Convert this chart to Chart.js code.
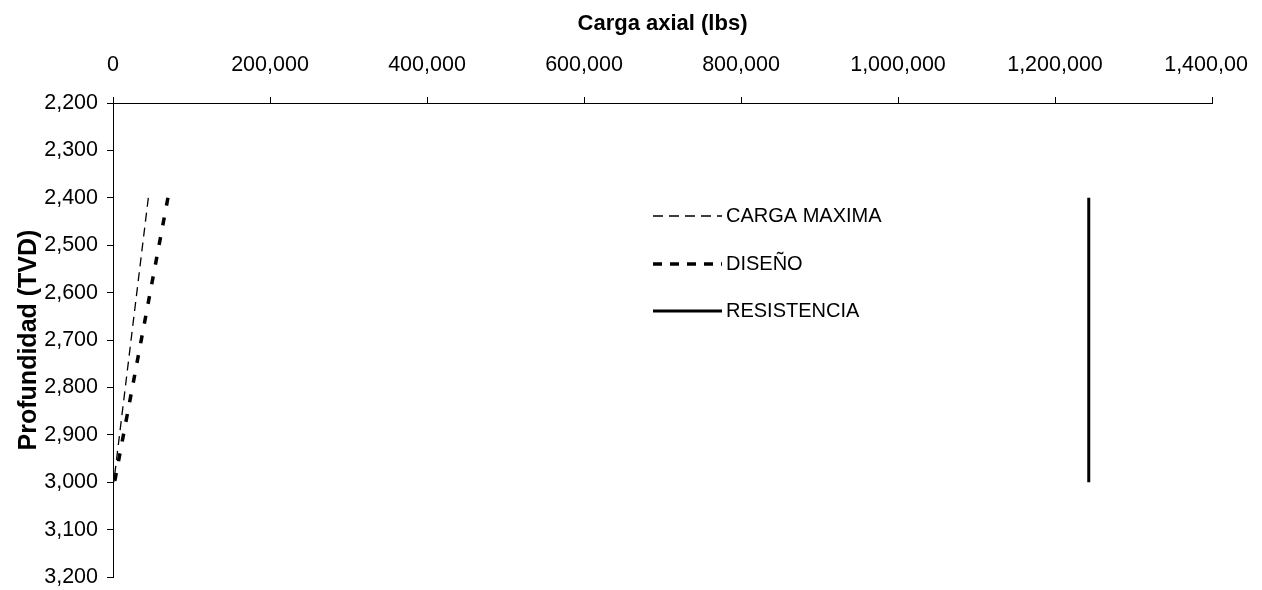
<!DOCTYPE html>
<html>
<head>
<meta charset="utf-8">
<script src="https://cdn.jsdelivr.net/npm/chart.js@4"></script>
<style>
  html, body { margin: 0; padding: 0; background: #fff; }
  #wrap { width: 1248px; height: 590px; }
</style>
</head>
<body>
<div id="wrap"><canvas id="chart" width="1248" height="590"></canvas></div>
<script>
// profundidad (TVD) de cada punto
const depth = [2400, 3000];
// carga axial (lbs)
const cargaMaxima = [45000, 1000];
const diseno = [70000, 2000];
const resistencia = [1243000, 1243000];

const xTicks = [0, 200000, 400000, 600000, 800000, 1000000, 1200000, 1400000];
const yTicks = [2200, 2300, 2400, 2500, 2600, 2700, 2800, 2900, 3000, 3100, 3200];

const FONT = '"Liberation Sans", Arial, sans-serif';

function points(xs) {
    return xs.map((x, i) => ({ x: x, y: depth[i] }));
}

const series = [
    { label: 'CARGA MAXIMA', data: cargaMaxima, width: 1.3, dash: [9, 6] },
    { label: 'DISEÑO', data: diseno, width: 3.5, dash: [8, 12] },
    { label: 'RESISTENCIA', data: resistencia, width: 3, dash: [] }
];

// leyenda dentro del area del grafico
const insideLegend = {
    id: 'insideLegend',
    afterDraw(chart) {
        const ctx = chart.ctx;
        ctx.save();
        ctx.font = '20px ' + FONT;
        ctx.fillStyle = '#000';
        ctx.textBaseline = 'middle';
        const rows = [216, 264, 311];
        const legendDash = [[10, 6], [9, 8], []];
        series.forEach((s, i) => {
            ctx.beginPath();
            ctx.lineWidth = s.width;
            ctx.strokeStyle = '#000';
            ctx.setLineDash(legendDash[i]);
            ctx.moveTo(653, rows[i]);
            ctx.lineTo(722, rows[i]);
            ctx.stroke();
            ctx.fillText(s.label, 726, rows[i]);
        });
        ctx.restore();
    }
};

new Chart(document.getElementById('chart'), {
    type: 'scatter',
    data: {
        datasets: series.map(s => ({
            label: s.label,
            data: points(s.data),
            showLine: true,
            borderColor: '#000',
            borderWidth: s.width,
            borderDash: s.dash,
            pointRadius: 0,
            borderCapStyle: 'butt'
        }))
    },
    options: {
        responsive: false,
        animation: false,
        layout: { padding: { left: 10, top: 7, right: 36, bottom: 13 } },
        plugins: { legend: { display: false }, tooltip: { enabled: false } },
        scales: {
            x: {
                type: 'linear',
                position: 'top',
                min: 0,
                max: 1400000,
                afterBuildTicks: s => { s.ticks = xTicks.map(v => ({ value: v })); },
                afterFit: s => { s.height = 96; s.paddingLeft = 0; s.paddingRight = 0; },
                ticks: { color: '#000', font: { family: FONT, size: 21.5 }, padding: 19, maxRotation: 0 },
                grid: { drawOnChartArea: false, drawTicks: true, tickLength: 6, color: '#000' },
                border: { display: true, color: '#000', width: 1 },
                title: { display: true, text: 'Carga axial (lbs)', color: '#000',
                         font: { family: FONT, size: 22, weight: 'bold' } }
            },
            y: {
                type: 'linear',
                position: 'left',
                reverse: true,
                min: 2200,
                max: 3200,
                afterBuildTicks: s => { s.ticks = yTicks.map(v => ({ value: v })); },
                afterFit: s => { s.width = 103; s.paddingTop = 0; s.paddingBottom = 0; },
                ticks: { color: '#000', font: { family: FONT, size: 21.5 }, padding: 9 },
                grid: { drawOnChartArea: false, drawTicks: true, tickLength: 6, color: '#000' },
                border: { display: true, color: '#000', width: 1 },
                title: { display: true, text: 'Profundidad (TVD)', color: '#000',
                         font: { family: FONT, size: 25, weight: 'bold' } }
            }
        }
    },
    plugins: [insideLegend]
});
</script>
</body>
</html>
